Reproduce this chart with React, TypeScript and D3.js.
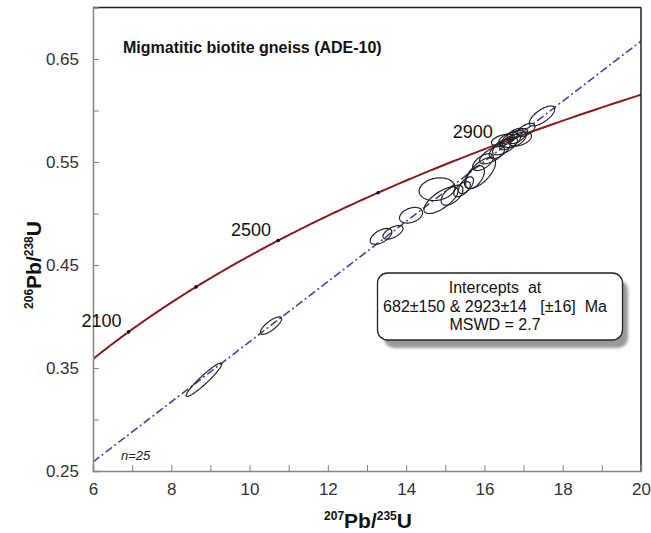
import React, { useEffect, useRef } from 'react';
import * as d3 from 'd3';

// U-Pb concordia for the migmatitic biotite gneiss, 25 zircon spots

const L238 = 1.55125e-10;
const L235 = 9.8485e-10;

// 2-sigma error ellipses
const pb207u235 = [8.836, 10.548, 13.358, 13.665, 14.125, 14.789, 14.891, 15.172, 15.888, 15.428, 15.964, 16.194, 16.526, 16.654, 16.756, 16.858, 16.603, 16.398, 16.782, 16.909, 16.475, 17.472, 15.53, 15.76, 17.063];
const pb206u238 = [0.3386, 0.3912, 0.4778, 0.4817, 0.4983, 0.5236, 0.5129, 0.5178, 0.5392, 0.5236, 0.5499, 0.5567, 0.5655, 0.5694, 0.5723, 0.5752, 0.5733, 0.5626, 0.5772, 0.5723, 0.5713, 0.5947, 0.5275, 0.5353, 0.5811];
const err207 = [0.454, 0.271, 0.276, 0.255, 0.295, 0.456, 0.435, 0.279, 0.396, 0.212, 0.266, 0.319, 0.319, 0.269, 0.31, 0.242, 0.236, 0.273, 0.206, 0.293, 0.298, 0.326, 0.191, 0.24, 0.23];
const err206 = [0.0162, 0.0085, 0.0077, 0.0066, 0.0076, 0.011, 0.0129, 0.0097, 0.0151, 0.0073, 0.0082, 0.0085, 0.0085, 0.0075, 0.0082, 0.0073, 0.0054, 0.0093, 0.0055, 0.0068, 0.0056, 0.0097, 0.0081, 0.0111, 0.0064];
const rhoErr = [0.945, 0.78, 0.55, 0.59, 0.34, 0.17, 0.7, 0.55, 0.66, 0.59, 0.58, 0.64, 0.64, 0.67, 0.45, 0.63, 0.63, 0.64, 0.62, 0.43, 0.44, 0.7, 0.59, 0.53, 0.55];

const markerAges = [2100, 2300, 2500, 2700, 2900];
const labelAges = [2100, 2500, 2900];
const interceptAges = [682, 2923];

const xTicks = [6, 7, 8, 9, 10, 11, 12, 13, 14, 15, 16, 17, 18, 19, 20];
const yTicks = [0.25, 0.3, 0.35, 0.4, 0.45, 0.5, 0.55, 0.6, 0.65];
const yLabelled = [0.25, 0.35, 0.45, 0.55, 0.65];

const boxLines = ['Intercepts  at', '682\u00b1150 & 2923\u00b114   [\u00b116]  Ma', 'MSWD = 2.7'];

const FONT = '"Liberation Sans", Arial, sans-serif';

const conc = (t: number) => [Math.exp(L235 * t * 1e6) - 1, Math.exp(L238 * t * 1e6) - 1];

const App = () => {
  const ref = useRef<SVGSVGElement>(null);

  useEffect(() => {
    document.body.style.margin = '0';
    const svg = d3.select(ref.current);
    svg.selectAll('*').remove();

    const x = d3.scaleLinear().domain([6, 20]).range([93, 641]);
    const y = d3.scaleLinear().domain([0.25, 0.7]).range([471, 7.5]);

    const defs = svg.append('defs');
    defs.append('clipPath').attr('id', 'plotClip')
      .append('rect').attr('x', 93).attr('y', 7.5).attr('width', 548).attr('height', 463.5);
    defs.append('filter').attr('id', 'blur').append('feGaussianBlur').attr('stdDeviation', 1.5);

    const plot = svg.append('g').attr('clip-path', 'url(#plotClip)');

    // concordia curve
    const ts = d3.range(1900, 3200, 5);
    const line = d3.line<number[]>().x(d => x(d[0])).y(d => y(d[1]));
    plot.append('path')
      .attr('d', line(ts.map(conc)))
      .attr('fill', 'none').attr('stroke', '#8b1c1c').attr('stroke-width', 2);

    // discordia
    const [a, b] = interceptAges.map(conc);
    const slope = (b[1] - a[1]) / (b[0] - a[0]);
    const dy = (xx: number) => a[1] + (xx - a[0]) * slope;
    plot.append('line')
      .attr('x1', x(6)).attr('y1', y(dy(6)))
      .attr('x2', x(20)).attr('y2', y(dy(20)))
      .attr('stroke', '#4b3fa6').attr('stroke-width', 1.6)
      .attr('stroke-dasharray', '8,3,2,3');

    // age markers
    plot.selectAll('circle.age').data(markerAges).join('circle')
      .attr('cx', t => x(conc(t)[0])).attr('cy', t => y(conc(t)[1]))
      .attr('r', 1.8).attr('fill', '#111');

    // error ellipses
    const ell = d3.line<number[]>().x(d => x(d[0])).y(d => y(d[1])).curve(d3.curveLinearClosed);
    const thetas = d3.range(0, 2 * Math.PI, Math.PI / 60);
    plot.selectAll('path.ell').data(pb207u235.map((_, i) => i)).join('path')
      .attr('d', i => ell(thetas.map(th => [
        pb207u235[i] + err207[i] * Math.cos(th),
        pb206u238[i] + err206[i] * (rhoErr[i] * Math.cos(th) + Math.sqrt(1 - rhoErr[i] ** 2) * Math.sin(th))
      ])))
      .attr('fill', 'none').attr('stroke', '#222').attr('stroke-width', 1.2);

    // frame
    svg.append('line').attr('x1', 93).attr('x2', 641).attr('y1', 7.5).attr('y2', 7.5).attr('stroke', '#222').attr('stroke-width', 1.5);
    svg.append('line').attr('x1', 641).attr('x2', 641).attr('y1', 7.5).attr('y2', 471).attr('stroke', '#222').attr('stroke-width', 1.5);

    const xAxis = svg.append('g').attr('transform', 'translate(0,471)')
      .call(d3.axisBottom(x).tickValues(xTicks).tickSize(-6).tickPadding(12)
        .tickFormat(d => (+d % 2 === 0 ? String(d) : '')));
    const yAxis = svg.append('g').attr('transform', 'translate(93,0)')
      .call(d3.axisLeft(y).tickValues(yTicks).tickSize(-6).tickPadding(14)
        .tickFormat(d => (yLabelled.some(v => Math.abs(v - +d) < 1e-6) ? d3.format('.2f')(+d) : '')));
    [xAxis, yAxis].forEach(g => {
      g.select('.domain').attr('stroke', '#8a837d').attr('stroke-width', 1.5);
      g.selectAll('.tick line').attr('stroke', '#8a837d');
      g.selectAll('.tick text').attr('font-family', FONT).attr('font-size', 17).attr('fill', '#333');
    });

    // age labels
    svg.selectAll('text.agel').data(labelAges).join('text')
      .attr('x', t => x(conc(t)[0]) - 7).attr('y', t => y(conc(t)[1]) - 5)
      .attr('text-anchor', 'end').attr('font-family', FONT).attr('font-size', 18).attr('fill', '#111')
      .text(t => String(t));

    // title
    svg.append('text').attr('x', 123).attr('y', 53)
      .attr('font-family', FONT).attr('font-size', 16).attr('font-weight', 'bold').attr('fill', '#111')
      .text('Migmatitic biotite gneiss (ADE-10)');

    svg.append('text').attr('x', 121).attr('y', 460)
      .attr('font-family', FONT).attr('font-size', 13).attr('font-style', 'italic').attr('fill', '#222')
      .text('n=25');

    // axis titles
    const xt = svg.append('text').attr('x', 368).attr('y', 528).attr('text-anchor', 'middle')
      .attr('font-family', FONT).attr('font-weight', 'bold').attr('fill', '#111');
    xt.append('tspan').attr('font-size', 12).attr('dy', -8).text('207');
    xt.append('tspan').attr('font-size', 21).attr('dy', 8).text('Pb/');
    xt.append('tspan').attr('font-size', 12).attr('dy', -8).text('235');
    xt.append('tspan').attr('font-size', 21).attr('dy', 8).text('U');

    const yt = svg.append('text').attr('transform', 'translate(41,265) rotate(-90)').attr('text-anchor', 'middle')
      .attr('font-family', FONT).attr('font-weight', 'bold').attr('fill', '#111');
    yt.append('tspan').attr('font-size', 12).attr('dy', -8).text('206');
    yt.append('tspan').attr('font-size', 21).attr('dy', 8).text('Pb/');
    yt.append('tspan').attr('font-size', 12).attr('dy', -8).text('238');
    yt.append('tspan').attr('font-size', 21).attr('dy', 8).text('U');

    // intercept box
    svg.append('rect').attr('x', 384).attr('y', 280).attr('width', 244).attr('height', 68).attr('rx', 10)
      .attr('fill', '#9a9a9a').attr('filter', 'url(#blur)');
    svg.append('rect').attr('x', 377.5).attr('y', 273).attr('width', 245).attr('height', 67).attr('rx', 10)
      .attr('fill', '#fff').attr('stroke', '#222').attr('stroke-width', 1.3);
    svg.selectAll('text.box').data(boxLines).join('text')
      .attr('x', 495).attr('y', (_, i) => 293 + i * 18.5)
      .attr('text-anchor', 'middle').attr('font-family', FONT).attr('font-size', 16).attr('fill', '#111')
      .style('white-space', 'pre')
      .text(d => d);
  });

  return (
    <svg ref={ref} width={651} height={533} style={{ display: 'block', background: '#fff' }} />
  );
};

export default App;
